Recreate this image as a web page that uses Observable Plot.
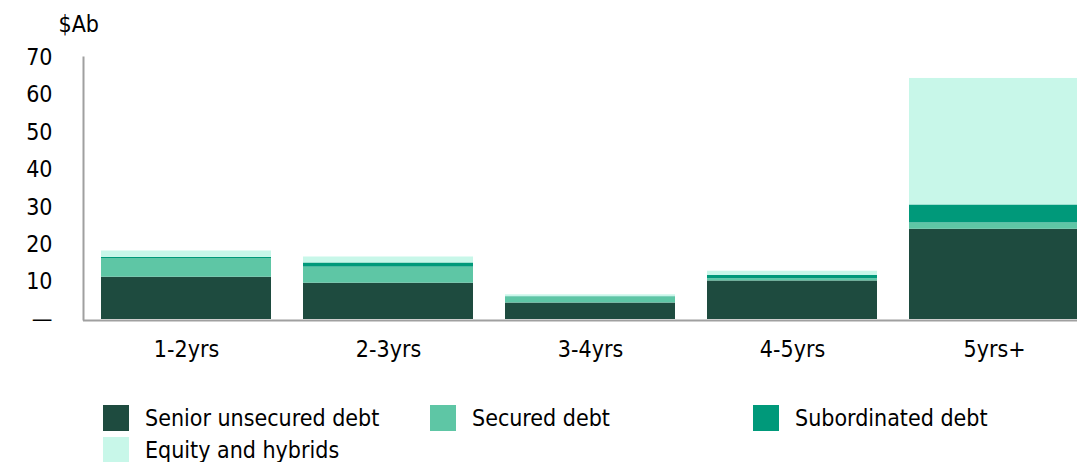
<!DOCTYPE html>
<html>
<head>
<meta charset="utf-8">
<script src="https://cdn.jsdelivr.net/npm/d3@7"></script>
<script src="https://cdn.jsdelivr.net/npm/@observablehq/plot@0.6"></script>
<style>
  html, body { margin: 0; padding: 0; background: #fff; }
  body { width: 1077px; height: 462px; overflow: hidden; font-family: "DejaVu Sans Condensed", "DejaVu Sans", sans-serif; font-stretch: condensed; }
  #legend { display: grid; grid-template-columns: 327px 323px auto; row-gap: 5px; padding: 14px 0 0 103px; font-size: 23px; color: #000; }
  .item { display: flex; align-items: center; height: 27px; }
  .sw { width: 26px; height: 26px; margin-right: 16px; flex: none; }
</style>
</head>
<body>
<div id="chart"></div>
<div id="legend"></div>
<script>
const categories = ["1-2yrs", "2-3yrs", "3-4yrs", "4-5yrs", "5yrs+"];
const seriesNames = ["Senior unsecured debt", "Secured debt", "Subordinated debt", "Equity and hybrids"];
const senior = [11.3, 9.7, 4.4, 10.3, 24.1];
const secured = [5.0, 4.3, 1.6, 0.6, 1.7];
const subordinated = [0.3, 1.1, 0.1, 0.9, 4.8];
const equity = [1.7, 1.6, 0.5, 1.1, 33.8];
const colors = ["#1e4b3f", "#5ec6a5", "#00997a", "#c8f7e9"];
const yTicks = [0, 10, 20, 30, 40, 50, 60, 70];
const unitLabel = "$Ab";

const seriesValues = [senior, secured, subordinated, equity];
const rows = [];
seriesNames.forEach((s, si) => {
  categories.forEach((c, ci) => rows.push({category: c, series: s, value: seriesValues[si][ci]}));
});

const chart = Plot.plot({
  width: 1077,
  height: 390,
  marginLeft: 83,
  marginRight: 0,
  marginTop: 57,
  marginBottom: 71,
  style: {fontFamily: '"DejaVu Sans Condensed", "DejaVu Sans", sans-serif', fontSize: "23px", color: "#000", background: "#fff", fontStretch: "condensed"},
  x: {domain: categories, range: [85, 1095], paddingInner: 0.16, paddingOuter: 0.08},
  y: {domain: [0, 70]},
  color: {domain: seriesNames, range: colors},
  marks: [
    Plot.barY(rows, {x: "category", y: "value", fill: "series", order: seriesNames}),
    Plot.ruleY([0], {stroke: "#a0a0a0", strokeWidth: 2, dy: 1}),
    Plot.frame({anchor: "left", stroke: "#a0a0a0", strokeWidth: 2}),
    Plot.axisX({tickSize: 0, tickPadding: 21, label: null}),
    Plot.axisY({ticks: yTicks, tickSize: 0, tickPadding: 31, label: null, tickFormat: d => d === 0 ? "—" : String(d)}),
    Plot.text([unitLabel], {frameAnchor: "top-left", dx: -25, dy: -42, textAnchor: "start", fill: "#000"})
  ]
});
document.getElementById("chart").appendChild(chart);

const legend = document.getElementById("legend");
seriesNames.forEach((s, i) => {
  const item = document.createElement("div");
  item.className = "item";
  const sw = document.createElement("span");
  sw.className = "sw";
  sw.style.background = colors[i];
  const t = document.createElement("span");
  t.textContent = s;
  item.appendChild(sw);
  item.appendChild(t);
  legend.appendChild(item);
});
</script>
</body>
</html>
